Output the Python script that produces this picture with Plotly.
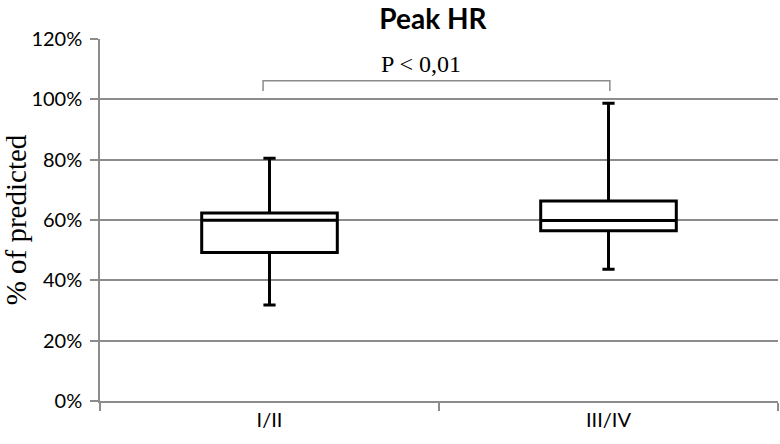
import plotly.graph_objects as go

# values (fraction of predicted)
groups = ["I/II", "III/IV"]
lower = [0.318, 0.437]
q1 = [0.492, 0.564]
median = [0.599, 0.598]
q3 = [0.623, 0.663]
upper = [0.805, 0.987]

p_text = "P < 0,01"

fig = go.Figure()

fig.add_trace(go.Box(
    x=groups, q1=q1, median=median, q3=q3,
    lowerfence=lower, upperfence=upper,
    boxpoints=False, fillcolor="white",
    line=dict(color="black", width=3),
    whiskerwidth=0.09, width=0.4,
    showlegend=False, hoverinfo="skip",
))

# significance bracket between the two groups
fig.add_shape(type="path", xref="x", yref="y",
              path="M -0.019,1.028 L -0.019,1.062 L 1.004,1.062 L 1.004,1.028",
              line=dict(color="#8c8c8c", width=1.5))
fig.add_annotation(x=0.447, y=1.117, xref="x", yref="y", text=p_text,
                   showarrow=False,
                   font=dict(family="Liberation Serif", size=24, color="black"))

fig.update_layout(
    width=780, height=444,
    margin=dict(l=100, r=2, t=39, b=43),
    paper_bgcolor="white", plot_bgcolor="white",
    title=dict(text="<b>Peak HR</b>", xref="container", x=0.555, xanchor="center",
               yref="container", y=0.935, yanchor="bottom",
               font=dict(family="Lato", size=28, color="black")),
    font=dict(family="Lato", size=20, color="black"),
)

fig.update_yaxes(
    range=[0, 1.2], dtick=0.2, tickformat=".0%", automargin=False,
    showgrid=True, gridcolor="#8c8c8c", gridwidth=1.5,
    showline=True, linecolor="#8c8c8c", linewidth=1.5,
    ticks="outside", ticklen=8, tickcolor="#8c8c8c", tickwidth=1.5,
    ticklabelstandoff=4, zeroline=False,
    title=dict(text="% of predicted", standoff=4,
               font=dict(family="Liberation Serif", size=29, color="black")),
)
fig.update_xaxes(
    range=[-0.5, 1.5], automargin=False,
    showline=True, linecolor="#8c8c8c", linewidth=1.5,
    ticks="outside", tickson="boundaries", ticklen=8,
    tickcolor="#8c8c8c", tickwidth=1.5, showgrid=False,
)

# drop the default page margin so the figure sits at the window corner
fig.write_html("out.html", config={"displayModeBar": False},
               post_script="document.body.style.margin='0';")
